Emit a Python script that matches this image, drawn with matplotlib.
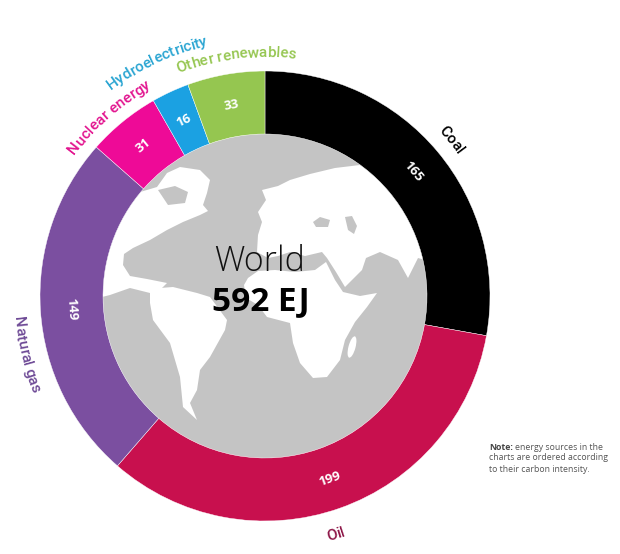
import matplotlib
matplotlib.use('Agg')
import matplotlib.pyplot as plt
import numpy as np
from matplotlib.patches import Circle, Polygon, Ellipse

# ---------------- data ----------------
categories = ['Coal', 'Oil', 'Natural gas', 'Nuclear energy', 'Hydroelectricity', 'Other renewables']
values = [165, 199, 149, 31, 16, 33]
center_title = 'World'
center_total = '592 EJ'
note_bold = 'Note:'
note_lines = ['energy sources in the', 'charts are ordered according', 'to their carbon intensity.']

# ---------------- style ----------------
colors = ['#000000', '#C8104E', '#7B4FA0', '#EE0A97', '#1BA1E2', '#95C650']
label_colors = ['#000000', '#8E1748', '#6E4A96', '#E2148F', '#2AA5D2', '#95C650']
label_angle_shift = [0, 3, -10, -2, 0, 3]       # degrees, clockwise
label_baseline_r = [239, 253, 252, 237, 257, 239]
FONT = 'Open Sans'
LFONT = 'Roboto'

W, H = 620, 554
CX, CY = 265, 554 - 296
R_OUT, RING_W = 225, 63
R_IN = R_OUT - RING_W

fig = plt.figure(figsize=(W / 100, H / 100), dpi=100)
ax = fig.add_axes([0, 0, 1, 1])

wedges, _ = ax.pie(values, colors=colors, startangle=90, counterclock=False,
                   radius=R_OUT, center=(CX, CY),
                   wedgeprops=dict(width=RING_W, edgecolor='white', linewidth=0.3))
globe = Circle((CX, CY), R_IN, facecolor='#C4C4C4', edgecolor='none', zorder=0.5)
ax.add_patch(globe)

# ---- decorative simplified world map (pixel coords from top-left) ----
land = {
    'namerica': [(95, 250), (100, 215), (130, 195), (157, 187), (167, 173), (180, 167), (200, 170),
                 (210, 180), (207, 193), (203, 205), (208, 211), (200, 215), (183, 222), (167, 230),
                 (150, 240), (133, 248), (124, 254), (123, 265), (130, 276), (147, 279), (167, 283),
                 (160, 290), (150, 293), (130, 288), (110, 295), (90, 300)],
    'samerica': [(150, 292), (160, 288), (173, 287), (197, 293), (210, 297), (227, 320), (225, 330),
                 (210, 357), (200, 370), (197, 390), (190, 403), (197, 420), (183, 407), (180, 377),
                 (170, 343), (153, 320), (150, 303)],
    'eurasia': [(257, 252), (258, 235), (262, 222), (258, 212), (266, 200), (262, 190), (278, 186),
                (290, 180), (310, 174), (335, 168), (360, 165), (385, 170), (410, 180), (440, 200),
                (450, 250), (432, 262), (418, 258), (408, 278), (398, 260), (380, 252), (366, 258),
                (362, 270), (345, 287), (336, 272), (327, 258), (322, 252), (305, 256), (290, 252),
                (278, 256), (268, 258)],
    'africa': [(244, 285), (248, 278), (258, 271), (275, 270), (295, 272), (315, 270), (326, 262),
               (335, 280), (343, 292), (360, 296), (377, 293), (367, 307), (355, 322), (345, 340),
               (340, 360), (327, 377), (313, 378), (300, 363), (293, 343), (290, 323), (267, 317),
               (258, 305), (246, 298)],
}
water = {
    'hudson': [(158, 190), (175, 186), (188, 192), (185, 203), (168, 205)],
    'blacksea': [(313, 222), (320, 217), (330, 220), (328, 227), (316, 227)],
    'caspian': [(345, 217), (352, 216), (357, 226), (354, 234), (348, 230)],
}
for pts in land.values():
    p = Polygon([(x, H - y) for x, y in pts], closed=True, facecolor='white',
                edgecolor='none', zorder=0.6)
    ax.add_patch(p)
    p.set_clip_path(globe)
mad = Ellipse((352, H - 347), 7, 22, angle=-15, facecolor='white', edgecolor='none', zorder=0.6)
ax.add_patch(mad)
for pts in water.values():
    p = Polygon([(x, H - y) for x, y in pts], closed=True, facecolor='#C4C4C4',
                edgecolor='none', zorder=0.7)
    ax.add_patch(p)

ax.set_xlim(0, W)
ax.set_ylim(0, H)
ax.set_aspect('equal')
ax.axis('off')

renderer = fig.canvas.get_renderer()


def width_of(s, **kw):
    t = ax.text(0, 0, s, **kw)
    w = t.get_window_extent(renderer).width
    t.remove()
    return w


def polar(theta, r):
    a = np.radians(theta)
    return CX + r * np.sin(a), CY + r * np.cos(a)


def curved_text(text, theta_c, r, flip, **kw):
    wx = width_of('I', **kw)
    P = [0.0] + [width_of(text[:k] + 'I', **kw) - wx for k in range(1, len(text) + 1)]
    total = P[-1]
    sign = -1 if flip else 1
    start = theta_c - sign * np.degrees(total / 2 / r)
    for k, c in enumerate(text):
        if c == ' ':
            continue
        mid = (P[k] + P[k + 1]) / 2
        th = start + sign * np.degrees(mid / r)
        x, y = polar(th, r)
        rot = -th + (180 if flip else 0)
        ax.text(x, y, c, rotation=rot, rotation_mode='anchor', ha='center',
                va='baseline', **kw)


cum = np.cumsum([0] + values)
tot = cum[-1]
for i, (cat, v) in enumerate(zip(categories, values)):
    mid = (cum[i] + cum[i + 1]) / 2 / tot * 360
    x, y = polar(mid, R_OUT - RING_W / 2)
    rot = -mid
    while rot <= -180:
        rot += 360
    if rot < -90:
        rot += 180
    elif rot > 90:
        rot -= 180
    ax.text(x, y, str(v), rotation=rot, rotation_mode='anchor', ha='center', va='center',
            color='white', fontsize=9.5, fontweight='bold', family=FONT)
    th = mid + label_angle_shift[i]
    flip = 90 < (th % 360) < 270
    curved_text(cat, th, label_baseline_r[i], flip, color=label_colors[i],
                fontsize=11, fontweight='medium', family=LFONT)

ax.text(260, H - 262, center_title, ha='center', va='center', fontsize=24.5, family=FONT,
        color='#111111', fontweight='light')
ax.text(261, H - 302, center_total, ha='center', va='center', fontsize=24, family=FONT,
        color='#000000', fontweight='bold')

nx, ny = 489, H - 447
t = ax.text(nx, ny, note_bold, fontsize=6.3, fontweight='bold', family=FONT, color='#444444',
            va='center', ha='left')
bw = t.get_window_extent(renderer).width
ax.text(nx + bw + 2, ny, note_lines[0], fontsize=6.3, family=FONT, color='#555555', va='center', ha='left')
for k, line in enumerate(note_lines[1:]):
    ax.text(nx, ny - 11 * (k + 1), line, fontsize=6.3, family=FONT, color='#555555',
            va='center', ha='left')

fig.savefig('out.png', dpi=100, facecolor='white')
